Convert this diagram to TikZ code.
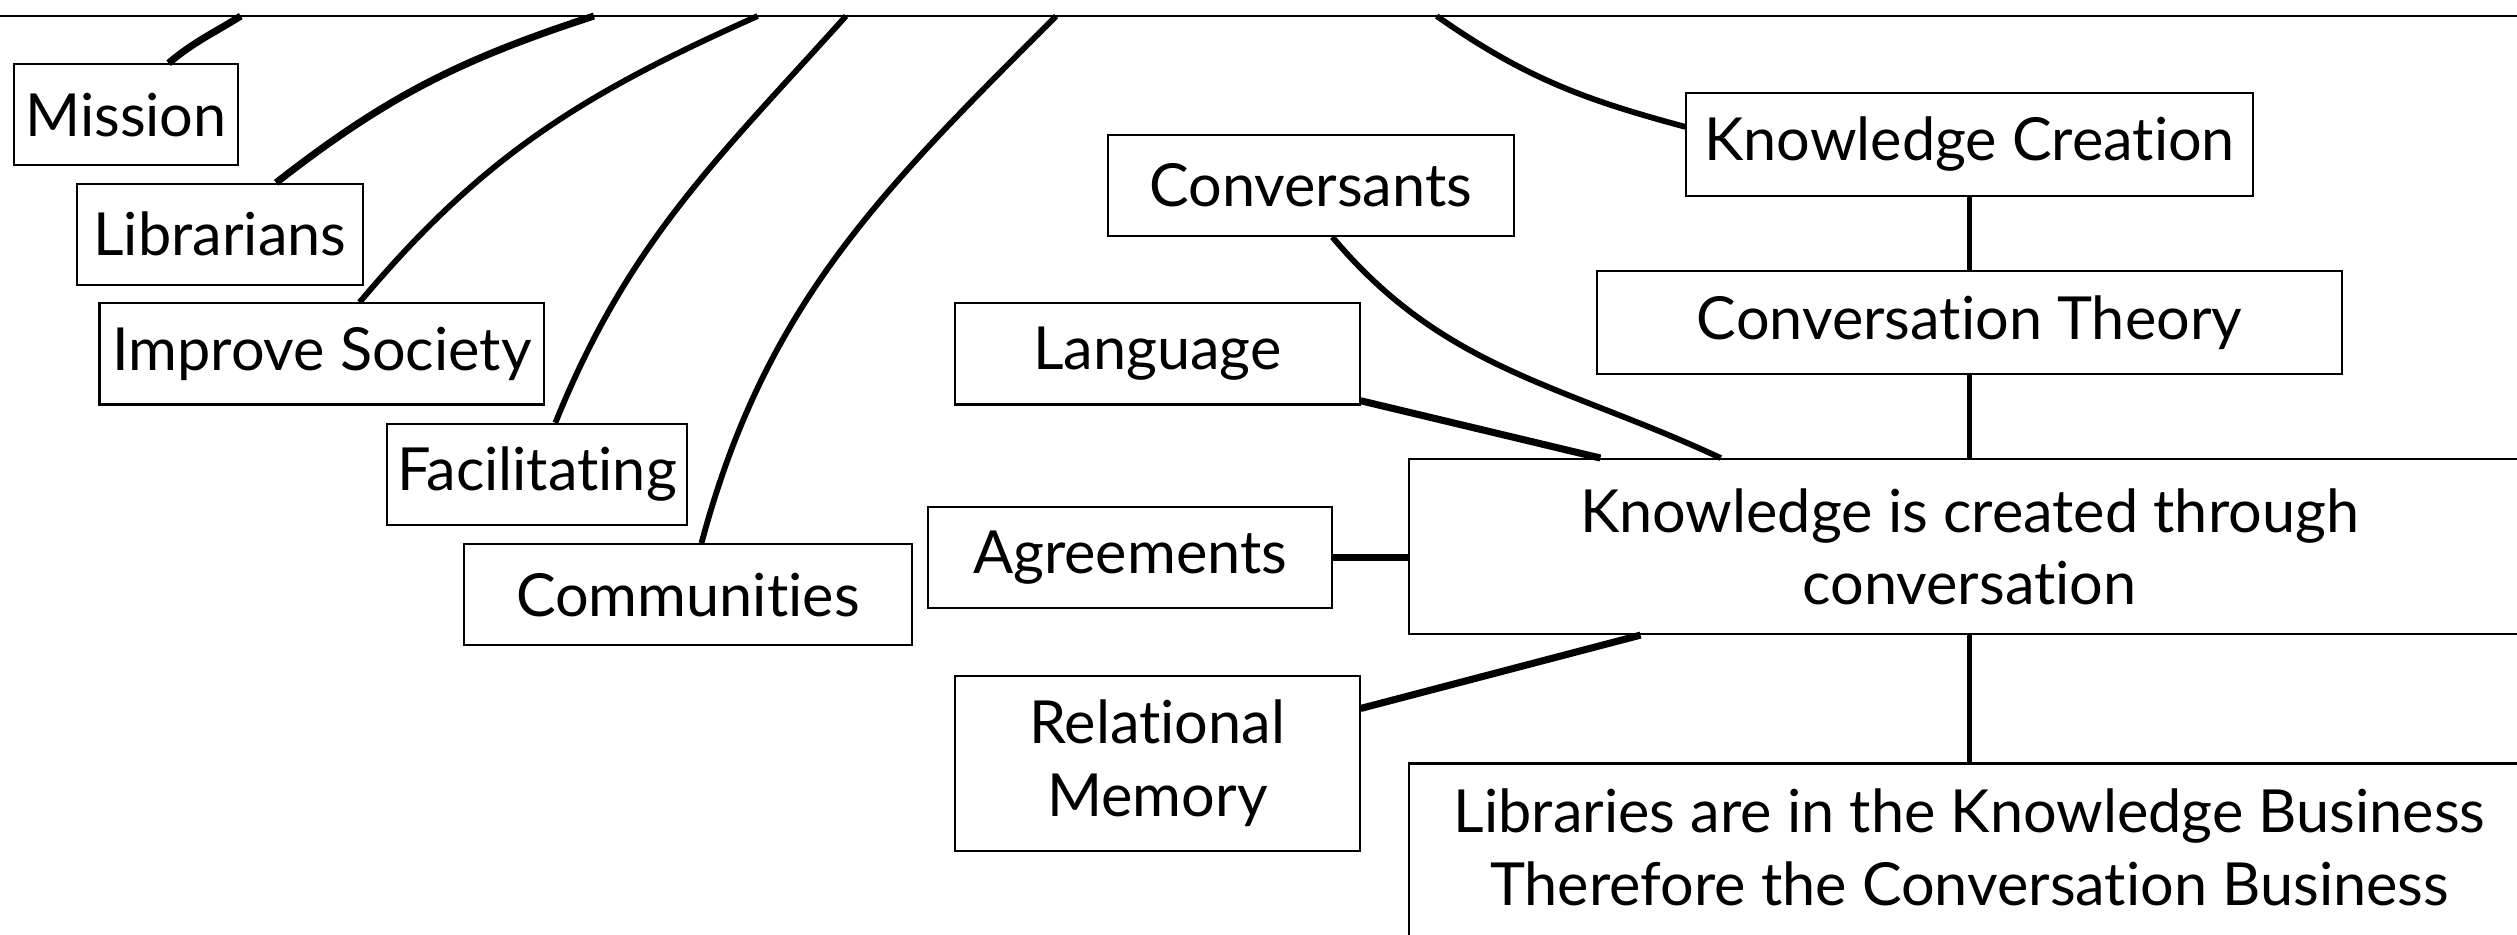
\documentclass[tikz,border=0pt]{standalone}
\usepackage{fontspec}
\setmainfont{Lato}[Ligatures=NoCommon]
\begin{document}
\begin{tikzpicture}[x=1pt,y=1pt,
  box/.style={draw, line width=1.3pt, minimum height=63pt, inner sep=0pt,
    font=\fontsize{37}{45}\selectfont, align=center},
  conn/.style={line width=3.6pt},
  thickconn/.style={line width=4.4pt},
  vconn/.style={line width=3.4pt}]
\clip (0,0) rectangle (1568,582);
% top line
\draw[line width=1.4pt] (0,572) coordinate (topL) -- (1568,572) coordinate (topR);
\coordinate (tM) at (150,572);
\coordinate (tL) at (370,572);
\coordinate (tI) at (472,572);
\coordinate (tF) at (527,572);
\coordinate (tC) at (658,572);
\coordinate (tK) at (895,572);
% left column
\node[box, minimum width=139pt] (mission) at (78.5,510.5) {Mission};
\node[box, minimum width=178pt] (librarians) at (137,436) {Librarians};
\node[box, minimum width=277pt] (improve) at (200.5,361.5) {Improve Society};
\node[box, minimum width=187pt] (facil) at (334.5,286.5) {Facilitating};
\node[box, minimum width=279pt] (commun) at (428.5,211.5) {Communities};
% middle column
\node[box, minimum width=253pt] (convs) at (816.5,466.5) {Conversants};
\node[box, minimum width=252pt] (lang) at (721,361.5) {Language};
\node[box, minimum width=252pt] (agree) at (704,234.5) {Agreements};
\node[box, minimum width=252pt, minimum height=109pt] (relmem) at (721,106.5) {Relational\\Memory};
% right column
\node[box, minimum width=353pt, minimum height=64pt] (kcreat) at (1227,492) {Knowledge Creation};
\node[box, minimum width=464pt, minimum height=64pt] (ctheory) at (1227,381) {Conversation Theory};
\node[box, minimum width=698pt, minimum height=109pt] (kic) at (1227,241.5) {Knowledge is created through\\conversation};
\node[box, minimum width=698pt, anchor=north, inner ysep=16pt, text depth=80pt] (libs) at (1227,107) {Libraries are in the Knowledge Business\\Therefore the Conversation Business};
% connectors to top line
\draw[thickconn] ([xshift=26.5pt]mission.north) to[out=40,in=212] (tM);
\draw[thickconn] ([xshift=35pt]librarians.north) to[out=38,in=198] (tL);
\draw[conn] ([xshift=23.5pt]improve.north) to[out=50,in=204] (tI);
\draw[conn] ([xshift=11.5pt]facil.north) to[out=68,in=228] (tF);
\draw[conn] ([xshift=8.5pt]commun.north) to[out=75,in=225] (tC);
\draw[conn] ([yshift=11pt]kcreat.west) to[out=165,in=-35] (tK);
% middle connectors
\draw[conn] ([xshift=13.5pt]convs.south) to[out=-50,in=155] ([xshift=-155pt]kic.north);
\draw[thickconn] ([yshift=3pt]lang.south east) -- ([xshift=-230pt]kic.north);
\draw[thickconn] (agree.east) -- (agree.east -| kic.west);
\draw[thickconn] ([yshift=-21pt]relmem.north east) -- ([xshift=-205pt]kic.south);
% vertical chain
\draw[vconn] (kcreat.south) -- (ctheory.north);
\draw[vconn] (ctheory.south) -- (kic.north);
\draw[vconn] (kic.south) -- (libs.north);
\end{tikzpicture}
\end{document}
